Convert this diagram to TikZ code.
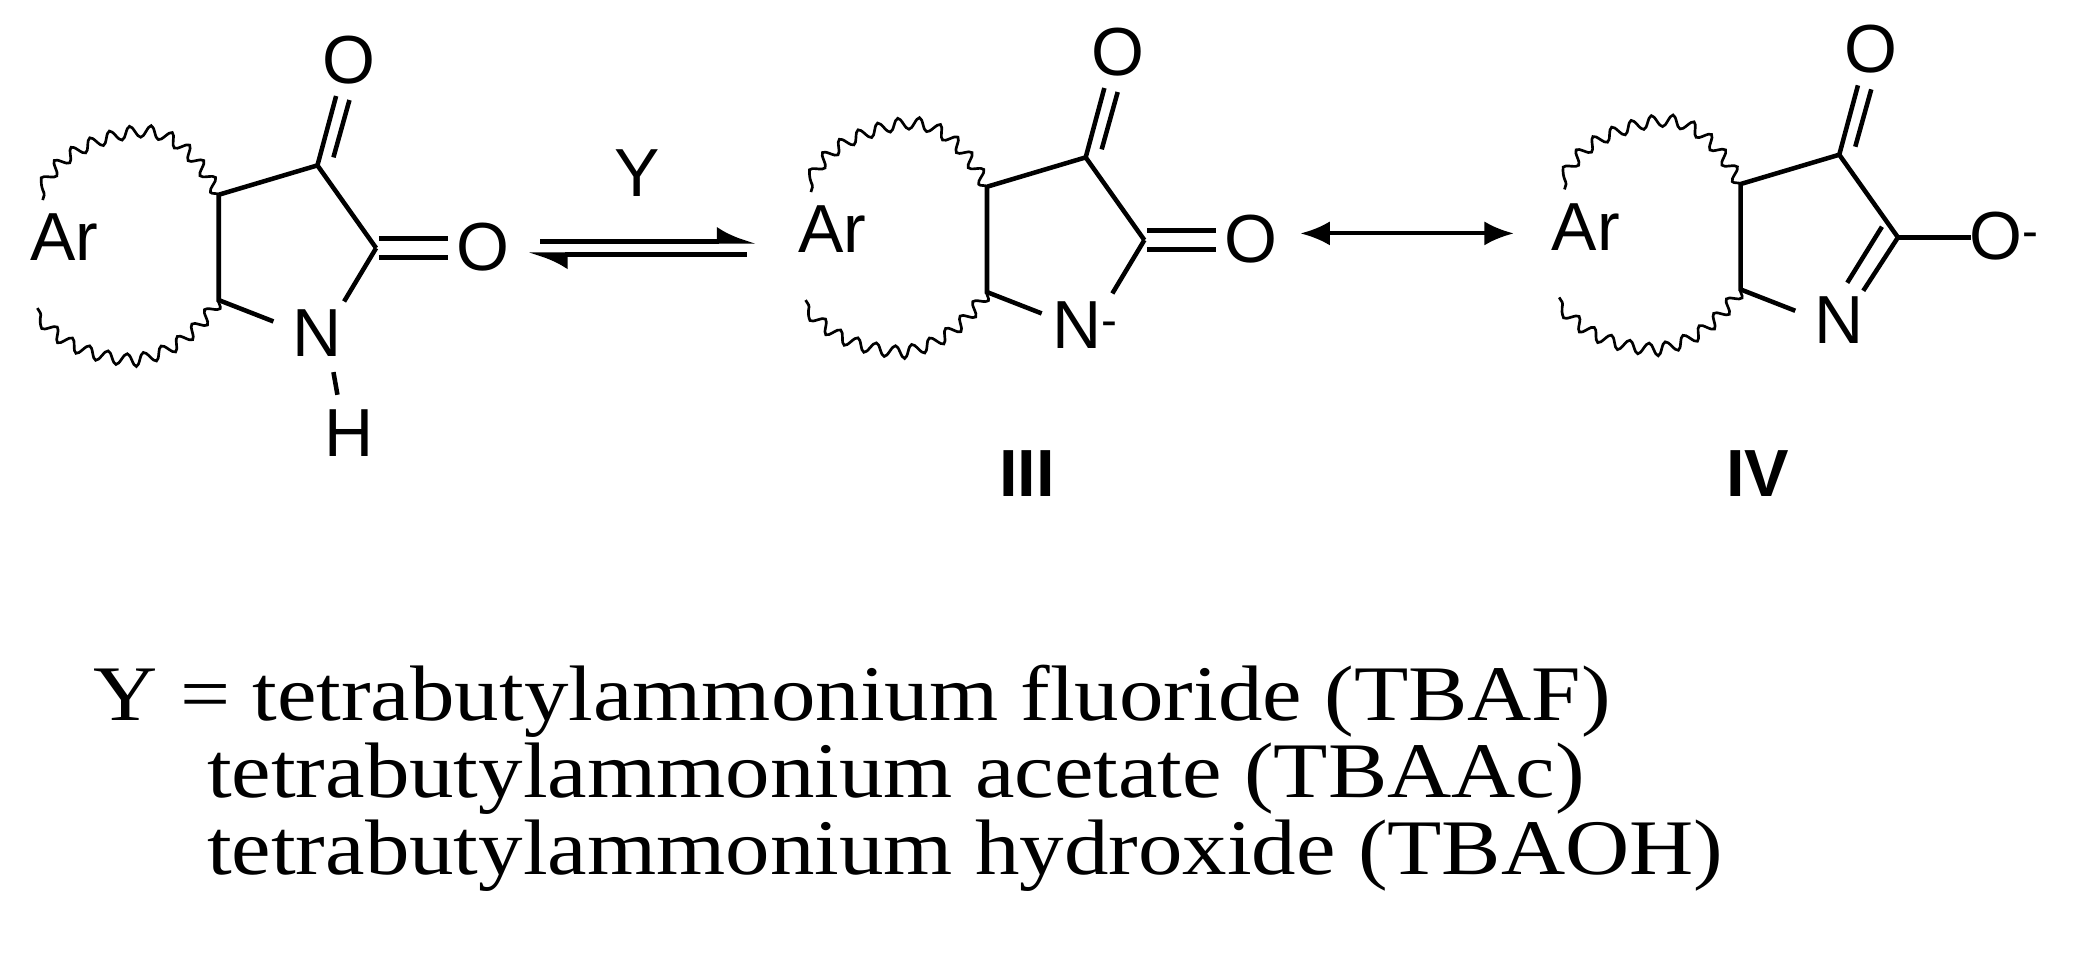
\documentclass[tikz,border=0pt]{standalone}
\usepackage{fontspec}
\setmainfont{Liberation Serif}
\setsansfont{Liberation Sans}
\usetikzlibrary{decorations.pathmorphing,arrows.meta}
\newcommand{\wide}[1]{\scalebox{1.13}[1]{#1}}
\tikzset{
  bond/.style={line width=3.4pt},
  wavy/.style={line width=2pt,decorate,decoration={snake,segment length=15pt,amplitude=4.5pt}},
  atom/.style={font=\sffamily\fontsize{51}{60}\selectfont,inner sep=0pt},
  lbl/.style={font=\sffamily\bfseries\fontsize{50}{60}\selectfont,inner sep=0pt},
  txt/.style={font=\fontsize{59}{70}\selectfont,inner sep=0pt,anchor=base west},
  core/.pic={
    \coordinate (-a) at (164,146);
    \coordinate (-b) at (164,225);
    \coordinate (-c3) at (238,124);
    \coordinate (-c2) at (282,186);
    \node[atom] (-ar) at (48,178) {Ar};
    \node[atom] (-ot) at (262,45) {O};
    \draw[wavy] (-a) .. controls (135,95) and (110,100) .. (92,104) .. controls (60,112) and (40,125) .. (32,150);
    \draw[wavy] (-b) .. controls (140,260) and (115,265) .. (100,268) .. controls (60,265) and (40,250) .. (28,231);
    \draw[bond] (-a) -- (-c3) -- (-c2);
    \draw[bond] (-a) -- (-b) -- (205,241);
    \draw[bond] (238,124) -- (252,72);
    \draw[bond] (250,118) -- (262,75);
  }
}
\begin{document}
\begin{tikzpicture}[x=1pt,y=-1pt]
\useasboundingbox (0,0) rectangle (1561,733);
% molecule I
\pic (m1) at (0,0) {core};
\node[atom] (m1-n) at (238,250) {N};
\node[atom] (m1-h) at (262,325) {H};
\node[atom] (m1-o) at (362,185) {O};
\draw[bond] (282,186) -- (258,226);
\draw[bond] (284,179) -- (336,179);
\draw[bond] (284,193) -- (336,193);
\draw[bond] (250,279) -- (253,296);
% equilibrium arrows
\coordinate (eqa) at (405,181);
\coordinate (eqb) at (567,181);
\coordinate (eqc) at (560,191);
\coordinate (eqd) at (396,191);
\draw[line width=3.4pt,-{Latex[left,length=24pt,width=22pt]}] (eqa) -- (eqb);
\draw[line width=3.4pt,-{Latex[left,length=24pt,width=22pt]}] (eqc) -- (eqd);
\node[atom] (y) at (478,130) {Y};
% molecule III
\pic (m3) at (576,-6) {core};
\node[atom] (m3-n) at (814,244) {N\textsuperscript{-}};
\node[atom] (m3-o) at (938,179) {O};
\draw[bond] (858,180) -- (834,220);
\draw[bond] (860,173) -- (912,173);
\draw[bond] (860,187) -- (912,187);
\node[lbl] (l3) at (770,355) {III};
% resonance arrow
\coordinate (ra) at (975,175);
\coordinate (rb) at (1135,175);
\draw[line width=3pt,{Latex[length=22pt,width=18pt]}-{Latex[length=22pt,width=18pt]}] (ra) -- (rb);
% molecule IV
\pic (m4) at (1141,-8) {core};
\node[atom] (m4-n) at (1379,240) {N};
\node[atom] (m4-o) at (1503,177) {O\textsuperscript{-}};
\draw[bond] (1423,178) -- (1397,218);
\draw[bond] (1411,170) -- (1385,212);
\draw[bond] (1423,178) -- (1478,178);
\node[lbl] (l4) at (1318,355) {IV};
% bottom text
\node[txt] (t1) at (70,540) {\wide{Y = tetrabutylammonium fluoride (TBAF)}};
\node[txt] (t2) at (155,598) {\wide{tetrabutylammonium acetate (TBAAc)}};
\node[txt] (t3) at (155,656) {\wide{tetrabutylammonium hydroxide (TBAOH)}};
\end{tikzpicture}
\end{document}
